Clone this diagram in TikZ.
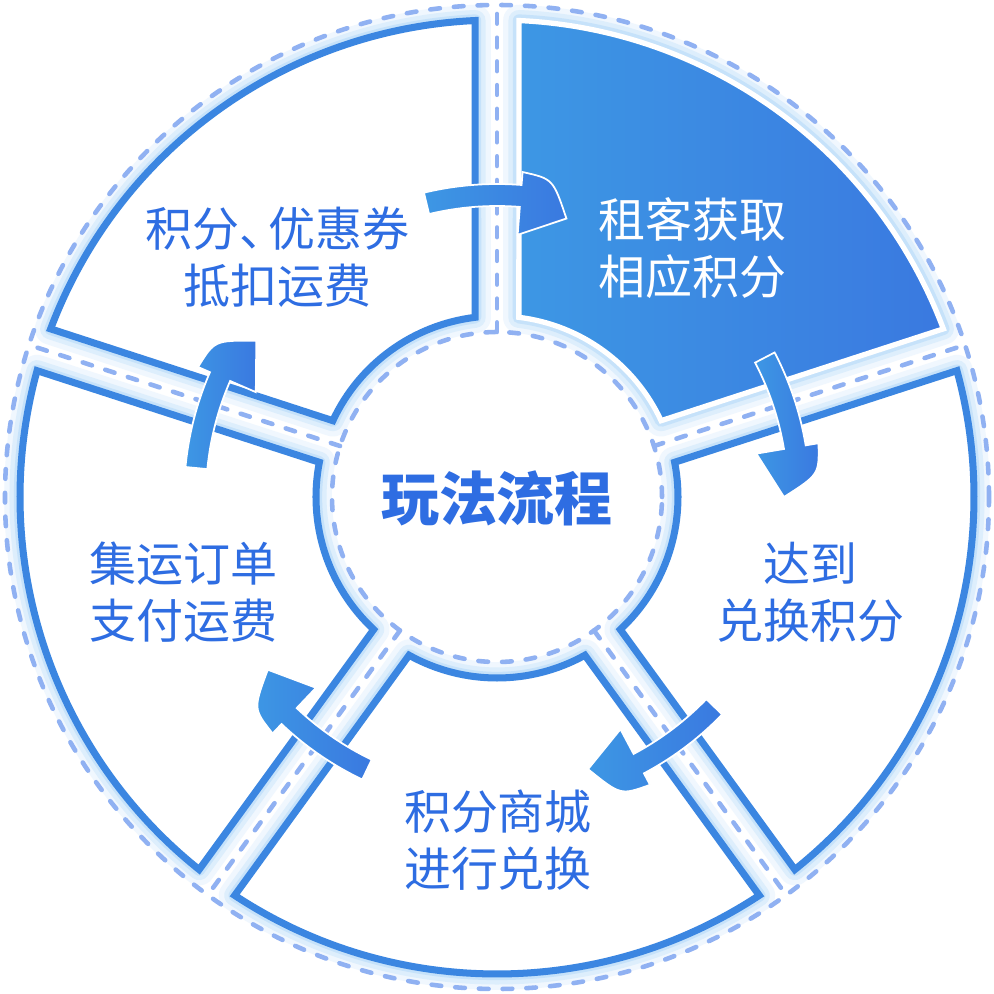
\documentclass[tikz,border=0pt]{standalone}
\usepackage{fontspec}
\newfontfamily\cjk{Noto Sans CJK SC}
\usetikzlibrary{calc}
\definecolor{lineblue}{HTML}{3B86E1}
\definecolor{dashblue}{HTML}{90B1F2}
\definecolor{textblue}{HTML}{2E6DE2}
\definecolor{fillA}{HTML}{3D97E4}
\definecolor{fillB}{HTML}{3A79E0}
\definecolor{glowA}{HTML}{F0F7FE}
\definecolor{glowB}{HTML}{DDEEFC}
\definecolor{glowC}{HTML}{C6E2FA}
\def\sector[#1](#2:#3){\path[#1] (#2+2.64:477) arc (#2+2.64:#3-2.64:477) -- (#3-6.94:181) arc (#3-6.94:#2+6.94:181) -- cycle;}
\def\flowarrow(#1){\path[arrowshape] (#1+13.5:313) arc (#1+13.5:#1-4.5:313) -- (#1-4.5:326) .. controls (#1-10:323) .. (#1-14:287) -- (#1-4.5:263) -- (#1-4.5:291) arc (#1-4.5:#1+13.5:291) -- cycle;}
\tikzset{
  dashline/.style={draw=dashblue, line width=2.6pt, line cap=round, dash pattern=on 5.5pt off 8pt},
  sectorline/.style={draw=lineblue, fill=white, line width=4pt, line join=miter},
  arrowshape/.style={left color=fillA, right color=fillB, draw=white, line width=1pt},
  label/.style={font=\cjk\fontsize{26.75}{32.4}\selectfont, text=textblue, align=center, inner sep=0pt}
}

\begin{document}
\begin{tikzpicture}[x=0.02cm, y=0.02cm]
			%%%%% START %%%%%
			\useasboundingbox (-497,-497) rectangle (497,497);
			\fill[white] (-497,-497) rectangle (497,497);
			
			% glow round the sectors
			\foreach \a in {18,90,162,234,306} {
				\sector[draw=glowA, line width=18pt, line join=round](\a:\a+72);
				\sector[draw=glowB, line width=12pt, line join=round](\a:\a+72);
				\sector[draw=glowC, line width=7pt, line join=round](\a:\a+72);
			}
			
			% dashed rings and gaps
			\draw[dashline] (0,0) circle (492);
			\draw[dashline] (0,0) circle (165);
			\foreach \a in {18,90,162,234,306}
				\draw[dashline] (\a:165) -- (\a:492);
			
			% sectors
			\sector[left color=fillA, right color=fillB, draw=white, line width=3pt, line join=miter](18:90);
			\sector[sectorline](90:162);
			\sector[sectorline](162:234);
			\sector[sectorline](234:306);
			\sector[sectorline](306:378);
			
			% arrows
			\flowarrow(90);
			\flowarrow(14);
			\flowarrow(302.5);
			\flowarrow(231);
			\flowarrow(161);
			
			% texts
			\node[label] (pay) at (-219.5,239.5) {积分、\kern-0.4em优惠券\\抵扣运费};
			\node[label, text=white] (earn) at (195.5,249) {租客获取\\相应积分};
			\node[label] (reach) at (313,-95) {达到\\兑换积分};
			\node[label] (mall) at (1,-343) {积分商城\\进行兑换};
			\node[label] (order) at (-313,-95) {集运订单\\支付运费};
			\node[font=\cjk\bfseries\fontsize{33}{40}\selectfont, text=textblue, inner sep=0pt] (flow) at (0,-1.5) {玩法流程};
			
			%%%%% END %%%%%
\end{tikzpicture}
\end{document}
